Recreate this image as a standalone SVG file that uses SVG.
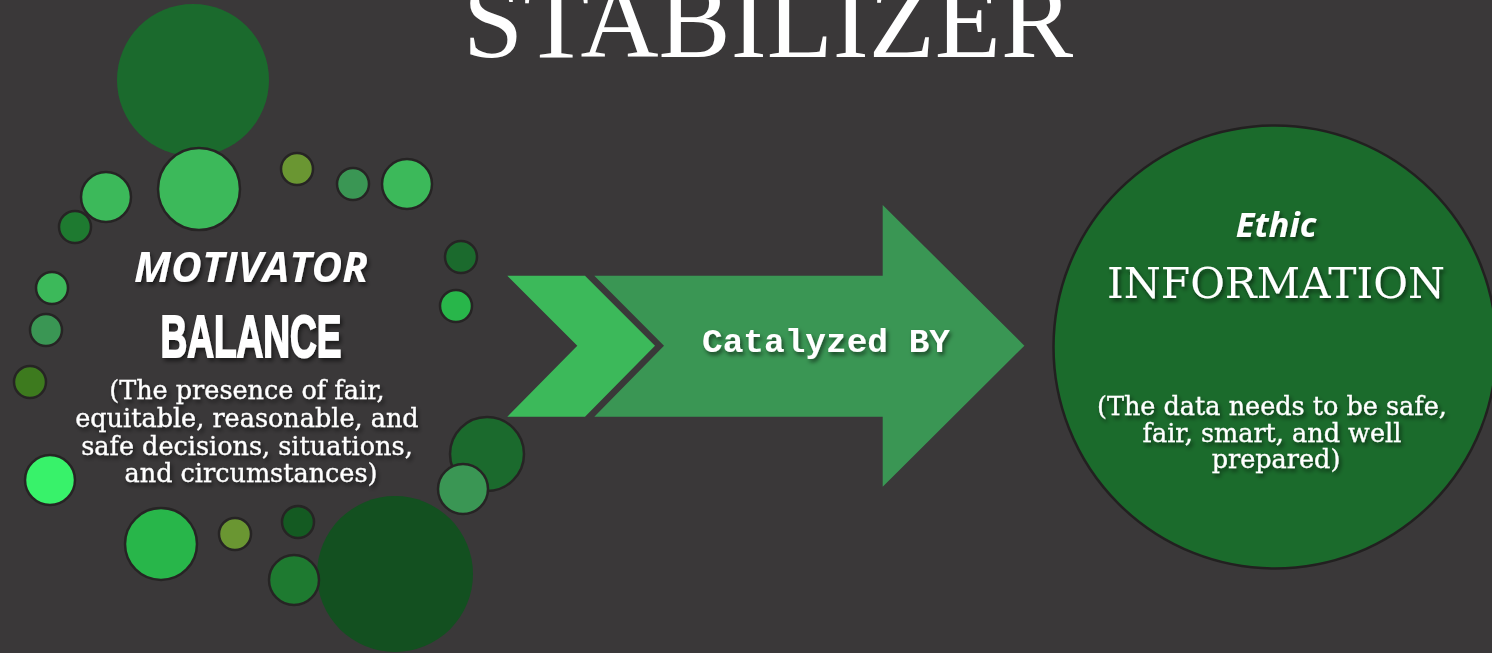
<svg xmlns="http://www.w3.org/2000/svg" width="1492" height="653" viewBox="0 0 1492 653">
  <defs>
    <filter id="txtShadow" x="-20%" y="-40%" width="140%" height="180%">
      <feDropShadow dx="2" dy="3" stdDeviation="2.2" flood-color="#000" flood-opacity="0.55"/>
    </filter>
  </defs>
  <style>
    .bubble { stroke: #262424; stroke-width: 2.5; }
    .blob { stroke: none; }
    .label { fill: #ffffff; text-anchor: middle; filter: url(#txtShadow); }
    .kicker { font-family: "Open Sans", "Liberation Sans", sans-serif; font-weight: 700; font-style: italic; }
    .body { font-family: "DejaVu Serif", "Liberation Serif", serif; font-size: 25.5px; stroke: #ffffff; stroke-width: 0.3; }
    .c1 { fill: #3cb95a; }
    .c2 { fill: #1e7a30; }
    .c3 { fill: #6a9632; }
    .c4 { fill: #3a9654; }
    .c5 { fill: #1b6a2d; }
    .c6 { fill: #28b64a; }
    .c7 { fill: #3d7a1e; }
    .c8 { fill: #38f26a; }
    .c9 { fill: #145a22; }
    .c10 { fill: #135020; }
  </style>

  <!-- backdrop -->
  <rect x="0" y="0" width="1492" height="653" fill="#3a3839"/>

  <!-- heading -->
  <g id="title">
    <text x="768" y="57" font-family="Liberation Serif, Times New Roman, serif" font-size="107" fill="#ffffff" text-anchor="middle" textLength="610" lengthAdjust="spacingAndGlyphs">STABILIZER</text>
  </g>

  <!-- left cluster: motivator / balance -->
  <g id="motivator">
    <circle class="blob c5" cx="193" cy="80" r="76"/>
    <circle class="blob c10" cx="395" cy="574" r="78"/>
    <circle class="bubble c1" cx="199" cy="189" r="41"/>
    <circle class="bubble c1" cx="106" cy="197" r="25"/>
    <circle class="bubble c2" cx="75" cy="227" r="16"/>
    <circle class="bubble c3" cx="297" cy="169" r="16"/>
    <circle class="bubble c4" cx="353" cy="184" r="16"/>
    <circle class="bubble c1" cx="407" cy="184" r="25"/>
    <circle class="bubble c5" cx="461" cy="257" r="16"/>
    <circle class="bubble c6" cx="456" cy="306" r="16"/>
    <circle class="bubble c1" cx="52" cy="288" r="16"/>
    <circle class="bubble c4" cx="46" cy="330" r="16"/>
    <circle class="bubble c7" cx="30" cy="382" r="16"/>
    <circle class="bubble c8" cx="50" cy="480" r="25"/>
    <circle class="bubble c6" cx="161" cy="544" r="36"/>
    <circle class="bubble c3" cx="235" cy="534" r="16"/>
    <circle class="bubble c9" cx="298" cy="522" r="16"/>
    <circle class="bubble c2" cx="294" cy="580" r="25"/>
    <circle class="bubble c5" cx="487" cy="454" r="37"/>
    <circle class="bubble c4" cx="463" cy="489" r="25"/>

    <text class="label kicker" x="251" y="282" font-size="42" textLength="234" lengthAdjust="spacingAndGlyphs">MOTIVATOR</text>
    <text class="label" x="251" y="357" font-family="Liberation Sans Narrow, Liberation Sans, sans-serif" font-weight="700" font-size="60" stroke="#ffffff" stroke-width="2" textLength="181" lengthAdjust="spacingAndGlyphs">BALANCE</text>
    <text class="label body">
      <tspan x="251" y="399">(The presence of fair,</tspan>
      <tspan x="251" y="426.7">equitable, reasonable, and</tspan>
      <tspan x="251" y="454.5">safe decisions, situations,</tspan>
      <tspan x="251" y="482.3">and circumstances)</tspan>
    </text>
  </g>

  <!-- link: chevron + block arrow -->
  <g id="connectors">
    <polygon points="507.3,275.7 585,275.7 655,345.7 585,416.7 507.3,416.7 577.3,345.7" fill="#3cb95a"/>
    <polygon points="594.3,275.7 882.7,275.7 882.7,205 1024.4,345.7 882.7,486.7 882.7,416.7 594.3,416.7 664,345.7" fill="#3a9654"/>
    <text class="label" x="826" y="352" font-family="Liberation Mono, Courier New, monospace" font-weight="700" font-size="34" textLength="248" lengthAdjust="spacingAndGlyphs">Catalyzed BY</text>
  </g>

  <!-- right node: ethic information -->
  <g id="information">
    <circle cx="1275" cy="347" r="221.5" fill="#1b6b2c" stroke="#222020" stroke-width="2.5"/>
    <text class="label kicker" x="1276" y="237" font-size="34.5">Ethic</text>
    <text class="label" x="1276" y="298" font-family="DejaVu Serif, Liberation Serif, serif" font-size="42.5" textLength="338" lengthAdjust="spacingAndGlyphs">INFORMATION</text>
    <text class="label body">
      <tspan x="1276" y="415">(The data needs to be safe,</tspan>
      <tspan x="1276" y="441.5">fair, smart, and well</tspan>
      <tspan x="1276" y="468">prepared)</tspan>
    </text>
  </g>
</svg>
